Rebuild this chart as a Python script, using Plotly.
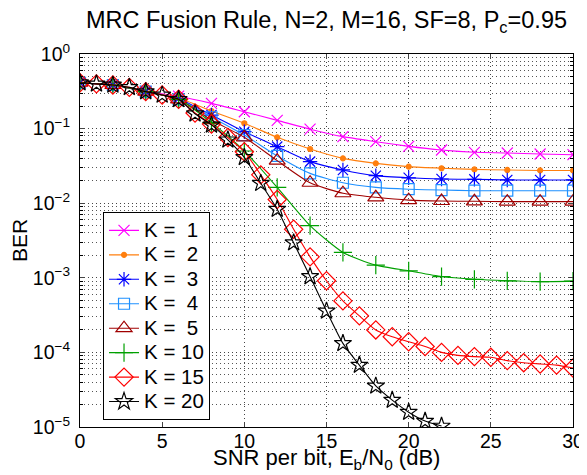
import plotly.graph_objects as go

snr_even = [0, 2, 4, 6, 8, 10, 12, 14, 16, 18, 20, 22, 24, 26, 28, 30]
snr_k15 = list(range(0, 31))
snr_k20 = list(range(0, 23))

ber_k1 = [0.412, 0.384, 0.316, 0.272, 0.218, 0.168, 0.129, 0.0982, 0.0780, 0.0668,
          0.0578, 0.0516, 0.0481, 0.0471, 0.0457, 0.0447]
ber_k2 = [0.412, 0.384, 0.313, 0.257, 0.172, 0.118, 0.0764, 0.0533, 0.0399, 0.0342,
          0.0309, 0.0294, 0.0284, 0.0279, 0.0275, 0.0275]
ber_k3 = [0.412, 0.384, 0.313, 0.251, 0.152, 0.0910, 0.0573, 0.0361, 0.0279, 0.0234,
          0.0219, 0.0211, 0.0209, 0.0205, 0.0205, 0.0205]
ber_k4 = [0.412, 0.384, 0.313, 0.247, 0.142, 0.0820, 0.0430, 0.0251, 0.0188, 0.0163,
          0.0154, 0.0150, 0.0147, 0.0147, 0.0147, 0.0147]
ber_k5 = [0.412, 0.384, 0.313, 0.247, 0.130, 0.0764, 0.0372, 0.0188, 0.0136, 0.0120,
          0.0110, 0.0107, 0.0106, 0.0105, 0.0105, 0.0105]
ber_k10 = [0.412, 0.384, 0.313, 0.247, 0.120, 0.0501, 0.0163, 0.00501, 0.00219, 0.00148,
           0.00124, 0.00104, 0.000955, 0.000912, 0.000887, 0.000902]
ber_k15 = [0.412, 0.398, 0.384, 0.357, 0.313, 0.282, 0.247, 0.162, 0.115, 0.0759,
           0.0490, 0.0240, 0.0112, 0.00447, 0.00191, 0.000912, 0.000490, 0.000309,
           0.000200, 0.000162, 0.000139, 0.000120, 0.000100, 0.0000912, 0.0000877,
           0.0000859, 0.0000776, 0.0000728, 0.0000700, 0.0000676, 0.0000617]
ber_k20 = [0.412, 0.398, 0.384, 0.357, 0.313, 0.282, 0.247, 0.158, 0.112, 0.0708,
           0.0412, 0.0185, 0.00832, 0.00295, 0.00104, 0.000359, 0.000132, 0.0000676,
           0.0000355, 0.0000229, 0.0000158, 0.0000120, 0.0000103]

names = ["K =\u00a0\u00a01", "K =\u00a0\u00a02", "K =\u00a0\u00a03", "K =\u00a0\u00a04",
         "K =\u00a0\u00a05", "K = 10", "K = 15", "K = 20"]
ytick_vals = [1e-5, 1e-4, 1e-3, 1e-2, 1e-1, 1]
ytick_text = ["10<sup>\u22125</sup>", "10<sup>\u22124</sup>", "10<sup>\u22123</sup>",
              "10<sup>\u22122</sup>", "10<sup>\u22121</sup>", "10<sup>0</sup>"]
xtick_vals = [0, 5, 10, 15, 20, 25, 30]

series = [
    (snr_even, ber_k1, "#ff00ff", "x-thin-open", 11),
    (snr_even, ber_k2, "#ff7f0e", "circle", 5),
    (snr_even, ber_k3, "#0000ff", "asterisk-open", 12),
    (snr_even, ber_k4, "#1e90ff", "square-open", 11),
    (snr_even, ber_k5, "#a00000", "triangle-up-open", 14),
    (snr_even, ber_k10, "#00a000", "cross-thin-open", 13),
    (snr_k15, ber_k15, "#ff0000", "diamond-open", 14),
    (snr_k20, ber_k20, "#000000", "star-open", 13),
]

fig = go.Figure()
for (xs, ys, col, sym, sz), nm in zip(series, names):
    fig.add_trace(go.Scatter(
        x=xs, y=ys, mode="lines+markers",
        name="<span style='font-size:20.5px'>" + nm + "</span>",
        line=dict(color=col, width=1.1, shape="spline", smoothing=0.6),
        marker=dict(symbol=sym, size=sz, color=col,
                    line=dict(color=col, width=1.2)),
    ))

font_family = "Liberation Sans, Arial, Helvetica, sans-serif"
minor_y = [m * 10.0 ** e for e in range(-5, 0) for m in range(2, 10)]
grid_dash = "1px,3px"

# page body has an 8px default margin, so the figure is 8px smaller
fig.update_layout(
    width=579, height=467,
    margin=dict(l=72, r=14, t=46, b=48, autoexpand=False),
    paper_bgcolor="white", plot_bgcolor="white",
    font=dict(family=font_family, size=19, color="black"),
    title=dict(text="MRC Fusion Rule, N=2, M=16, SF=8, P<sub>c</sub>=0.95",
               x=0.5, xref="paper", xanchor="center",
               y=1 - 12 / 467, yref="container", yanchor="middle",
               font=dict(size=23.5)),
    showlegend=True,
    legend=dict(x=0.0467, y=0.576, xanchor="left", yanchor="top",
                bgcolor="white", bordercolor="black", borderwidth=1,
                font=dict(size=16.5), tracegroupgap=0),
    xaxis=dict(range=[0, 30], tickvals=xtick_vals, ticks="inside", ticklen=5,
               automargin=False,
               showline=True, linecolor="black", linewidth=1, mirror="ticks",
               showgrid=True, gridcolor="#444444", griddash=grid_dash, gridwidth=1,
               zeroline=False, tickfont=dict(size=19.5), ticklabelstandoff=-3),
    yaxis=dict(type="log", range=[-5, 0], tickvals=ytick_vals, ticktext=ytick_text,
               ticks="inside", ticklen=5, ticklabelstandoff=5, automargin=False,
               showline=True, linecolor="black", linewidth=1, mirror="ticks",
               showgrid=True, gridcolor="#444444", griddash=grid_dash, gridwidth=1,
               zeroline=False, tickfont=dict(size=19.5),
               minor=dict(tickvals=minor_y, ticks="inside", ticklen=3,
                          showgrid=True, gridcolor="#555555", griddash=grid_dash,
                          gridwidth=1, tickcolor="black"),
               title=dict(text="BER", font=dict(size=21), standoff=12)),
    annotations=[dict(text="SNR per bit, E<sub>b</sub>/N<sub>0</sub> (dB)",
                      xref="paper", yref="paper", x=0.5, y=-0.086,
                      xanchor="center", yanchor="middle", showarrow=False,
                      font=dict(size=22))],
)

fig.write_html("out.html")
